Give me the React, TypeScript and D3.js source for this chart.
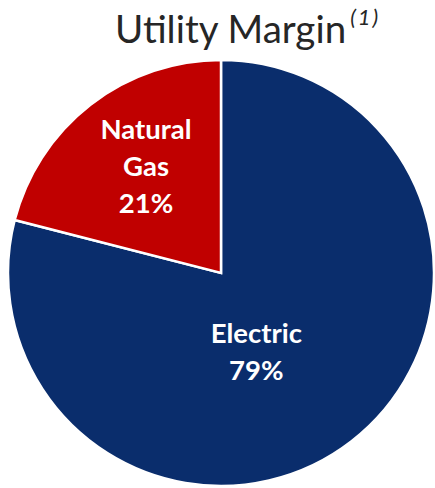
import React from "react";
import * as d3 from "d3";

const categories = ["Electric", "Natural Gas"];
const values = [79, 21];
const labelLines = [["Electric", "79%"], ["Natural", "Gas", "21%"]];
const colors = ["#0a2d6c", "#c00000"];

const W = 435;
const H = 488;
const cx = 221;
const cy = 273;
const R = 213;

export default function App() {
  const pie = d3
    .pie<number>()
    .sort(null)
    .value((d) => d)
    .startAngle(0)
    .endAngle(2 * Math.PI);
  const arcs = pie(values);
  const arc = d3.arc<d3.PieArcDatum<number>>().innerRadius(0).outerRadius(R);
  const labelRadius = [0.485, 0.62];
  const labelDx = [-28, 6];
  const lineH = 37;
  const font = "Lato, 'Open Sans', sans-serif";

  return (
    <svg
      width={W}
      height={H}
      style={{ position: "absolute", left: 0, top: 0, background: "#fff" }}
    >
      <text
        x={115}
        y={43}
        fontFamily={font}
        fontSize={38.5}
        fill="#262626"
      >
        Utility Margin
        <tspan fontSize={22} fontStyle="italic" dy={-18} dx={4} letterSpacing={2}>
          (1)
        </tspan>
      </text>
      <g transform={`translate(${cx},${cy})`}>
        {arcs.map((a, i) => (
          <path
            key={categories[i]}
            d={arc(a) || ""}
            fill={colors[i]}
            stroke="#ffffff"
            strokeWidth={2.5}
          />
        ))}
        {arcs.map((a, i) => {
          const r = R * labelRadius[i];
          const la = d3.arc<d3.PieArcDatum<number>>().innerRadius(r).outerRadius(r);
          const [lx, ly] = la.centroid(a);
          const lines = labelLines[i];
          const y0 = ly - ((lines.length - 1) * lineH) / 2;
          return (
            <text
              key={"l" + i}
              x={lx + labelDx[i]}
              y={y0}
              textAnchor="middle"
              dominantBaseline="middle"
              fontFamily={font}
              fontWeight="bold"
              fontSize={27.5}
              fill="#ffffff"
            >
              {lines.map((t, j) => (
                <tspan key={j} x={lx + labelDx[i]} y={y0 + j * lineH}>
                  {t}
                </tspan>
              ))}
            </text>
          );
        })}
      </g>
    </svg>
  );
}
